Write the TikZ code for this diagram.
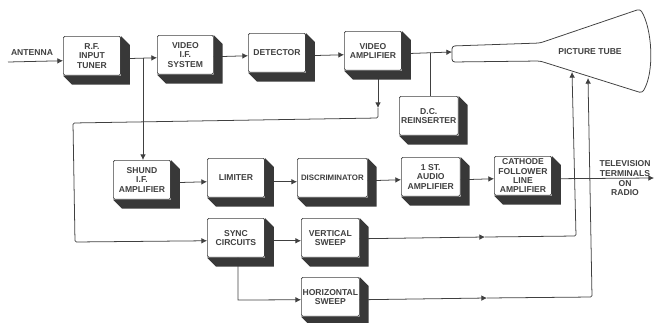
\documentclass[tikz,border=0pt]{standalone}
\usepackage{fontspec}
\setmainfont{Liberation Sans}
\usetikzlibrary{arrows.meta,calc}
\definecolor{tinta}{gray}{0.25}
\begin{document}
\begin{tikzpicture}[x=0.025cm, y=-0.025cm, font=\fontsize{6.1}{6.7}\selectfont\bfseries, text=tinta,
  bloco/.style={draw=tinta, line width=0.5pt, fill=white, rounded corners=1pt, inner sep=0pt, align=center,
    anchor=north west, minimum width=1.43cm, minimum height=0.97cm},
  fio/.style={draw=tinta, line width=0.55pt},
  seta/.style={fio, -{Latex[length=4pt, width=4pt]}},
  rot/.style={inner sep=0pt, align=center},
]
  \useasboundingbox (0,0) rectangle (656,322);

  % linha de cima
  \node[bloco] (rf) at (63,36) {R.F.\\ INPUT\\ TUNER};
  \node[bloco, minimum width=1.40cm] (vif) at (157,35) {VIDEO\\ I.F.\\ SYSTEM};
  \node[bloco] (det) at (248,33) {DETECTOR};
  \node[bloco] (vamp) at (344,31) {VIDEO\\ AMPLIFIER};
  \node[bloco, minimum width=1.47cm] (dc) at (399,96) {D.C.\\ REINSERTER};

  % linha do meio
  \node[bloco] (shund) at (113,160) {SHUND\\ I.F.\\ AMPLIFIER};
  \node[bloco] (lim) at (207,158) {LIMITER};
  \node[bloco, minimum width=1.75cm, font=\fontsize{5.6}{6.7}\selectfont\bfseries] (disc) at (297,158) {DISCRIMINATOR};
  \node[bloco, minimum width=1.47cm] (aud) at (401,157) {1 ST.\\ AUDIO\\ AMPLIFIER};
  \node[bloco] (cath) at (494,156) {CATHODE\\ FOLLOWER\\ LINE\\ AMPLIFIER};

  % varrimentos
  \node[bloco] (sync) at (207,218) {SYNC\\ CIRCUITS};
  \node[bloco, minimum width=1.45cm] (vert) at (301,218) {VERTICAL\\ SWEEP};
  \node[bloco, minimum width=1.45cm] (hor) at (301,277) {HORIZONTAL\\ SWEEP};

  % tubo
  \draw[fio, rounded corners=2pt] (452,46) -- (540,43) -- (640,9)
    .. controls (652,28) and (655,72) .. (642,93) -- (540,61) -- (452,62) -- cycle;
  \node[rot] (tube) at (590,52) {PICTURE TUBE};

  \node[rot] (ant) at (32,53) {ANTENNA};
  \node[rot] (tv) at (625,168.5) {TELEVISION\\ TERMINALS};
  \node[rot] (radio) at (625,188) {ON\\ RADIO};

  \coordinate (antin) at (8,62);
  \coordinate (tira) at (143,58);
  \coordinate (dcj) at (430,53);
  \coordinate (vmeio) at (378,108);
  \coordinate (vcan) at (378,118);
  \coordinate (vesq) at (73,123);
  \coordinate (vbai) at (75,242);
  \coordinate (sbai) at (238,300);
  \coordinate (vmid) at (485,237);
  \coordinate (vcan2) at (576,236);
  \coordinate (vtub) at (572,72);
  \coordinate (hmid) at (487,298);
  \coordinate (hcan) at (592,297);
  \coordinate (htub) at (588,78);
  \coordinate (tvfim) at (654,178);
  \coordinate (tubin) at (452,52);

  % ligacoes
  \draw[seta] (antin) -- ([shift={(0,5)}]rf.west);
  \draw[seta] ([shift={(0,3)}]rf.east) -- ([shift={(0,3)}]vif.west);
  \draw[seta] (tira) -- (shund.north -| tira);
  \draw[seta] ([shift={(0,2)}]vif.east) -- ([shift={(0,3)}]det.west);
  \draw[seta] ([shift={(0,3)}]det.east) -- ([shift={(0,4)}]vamp.west);
  \draw[seta] ([shift={(0,3)}]vamp.east) -- (tubin);
  \draw[fio] (dcj) -- (dc.north -| dcj);
  \draw[seta] (vamp.south -| vmeio) -- (vmeio);
  \draw[seta, rounded corners=1pt] (vmeio) -- (vcan) -- (vesq) -- (vbai) -- ([shift={(0,3)}]sync.west);
  \draw[seta] ([shift={(0,3)}]shund.east) -- ([shift={(0,4)}]lim.west);
  \draw[seta] ([shift={(0,4)}]lim.east) -- ([shift={(0,4)}]disc.west);
  \draw[seta] ([shift={(0,3)}]disc.east) -- ([shift={(0,3)}]aud.west);
  \draw[seta] ([shift={(0,3)}]aud.east) -- ([shift={(0,3)}]cath.west);
  \draw[seta] ([shift={(0,3)}]cath.east) -- (tvfim);
  \draw[seta] ([shift={(0,3)}]sync.east) -- ([shift={(0,3)}]vert.west);
  \draw[seta] (sync.south -| sbai) -- (sbai) -- ([shift={(0,3)}]hor.west);
  \draw[seta] ([shift={(0,1)}]vert.east) -- (vmid);
  \draw[seta, rounded corners=1pt] (vmid) -- (vcan2) -- (vtub);
  \draw[seta] ([shift={(0,3)}]hor.east) -- (hmid);
  \draw[seta, rounded corners=1pt] (hmid) -- (hcan) -- (htub);

  % sombras
  \foreach \b in {rf,vif,det,vamp,dc,shund,lim,disc,aud,cath,sync,vert,hor}{
    \fill[black!78] (\b.north east) -- ++(9,9) -- ($(\b.south east)+(9,9)$) -- ($(\b.south west)+(9,9)$)
      -- (\b.south west) -- (\b.south east) -- cycle;
  }
\end{tikzpicture}
\end{document}
